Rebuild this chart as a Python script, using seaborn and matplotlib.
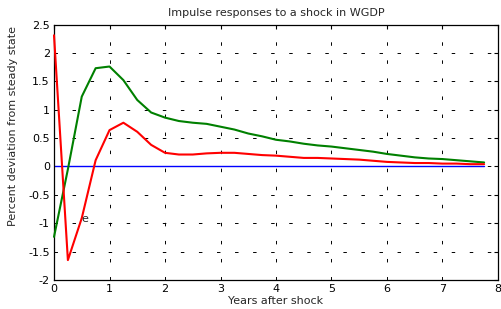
import numpy as np
import pandas as pd
import matplotlib
matplotlib.use('Agg')
import matplotlib.pyplot as plt
import seaborn as sns

# quarterly horizon, in years
years = [i * 0.25 for i in range(32)]

# responses
green_resp = [-1.24, -0.05, 1.23, 1.73, 1.76, 1.52, 1.17, 0.95,
              0.86, 0.80, 0.77, 0.75, 0.70, 0.65, 0.58, 0.53,
              0.47, 0.44, 0.40, 0.37, 0.35, 0.32, 0.29, 0.26,
              0.22, 0.19, 0.16, 0.14, 0.13, 0.11, 0.09, 0.07]
red_resp = [2.31, -1.65, -0.91, 0.11, 0.64, 0.77, 0.61, 0.38,
            0.24, 0.21, 0.21, 0.23, 0.24, 0.24, 0.22, 0.20,
            0.19, 0.17, 0.15, 0.15, 0.14, 0.13, 0.12, 0.10,
            0.08, 0.07, 0.06, 0.06, 0.05, 0.05, 0.04, 0.04]
zero_line = [0.0] * 32

x_ticks = [0, 1, 2, 3, 4, 5, 6, 7, 8]
y_ticks = [-2, -1.5, -1, -0.5, 0, 0.5, 1, 1.5, 2, 2.5]
y_tick_labels = ['-2', '-1.5', '-1', '-0.5', '0', '0.5', '1', '1.5', '2', '2.5']

sns.set_style('white')
plt.rcParams['font.family'] = ['DejaVu Sans']
plt.rcParams['font.size'] = 8
plt.rcParams['lines.scale_dashes'] = False

df = pd.DataFrame({'years': years, 'green': green_resp, 'red': red_resp, 'zero': zero_line})

fig = plt.figure(figsize=(5.02, 3.09), dpi=100)
ax = fig.add_axes([0.1076, 0.0939, 0.8844, 0.8268])

sns.lineplot(ax=ax, data=df, x='years', y='zero', color='#0000ff', linewidth=1.0)
sns.lineplot(ax=ax, data=df, x='years', y='green', color='#008000', linewidth=1.5,
             clip_on=False, zorder=3)
sns.lineplot(ax=ax, data=df, x='years', y='red', color='#ff0000', linewidth=1.5,
             clip_on=False, zorder=3)

ax.text(0.5, -0.93, 'e', fontsize=8, va='center', ha='left')

ax.set_xlim(0, 8)
ax.set_ylim(-2, 2.5)
ax.set_xticks(x_ticks)
ax.set_xticklabels([str(t) for t in x_ticks])
ax.set_yticks(y_ticks)
ax.set_yticklabels(y_tick_labels)

ax.grid(True, color='black', linewidth=0.7, linestyle=(0, (2.5, 10.5)))
ax.set_axisbelow(True)
ax.tick_params(direction='in', length=3, width=0.8, top=True, right=True,
               labelsize=8, pad=3, colors='black')
for sp in ax.spines.values():
    sp.set_visible(True)
    sp.set_color('black')
    sp.set_linewidth(0.9)

ax.set_title('Impulse responses to a shock in WGDP', fontsize=8, pad=6)
ax.set_xlabel('Years after shock', fontsize=8, labelpad=1)
ax.set_ylabel('Percent deviation from steady state', fontsize=8)
ax.yaxis.set_label_coords(-0.081, 0.603)

fig.savefig('out.png', dpi=100)
